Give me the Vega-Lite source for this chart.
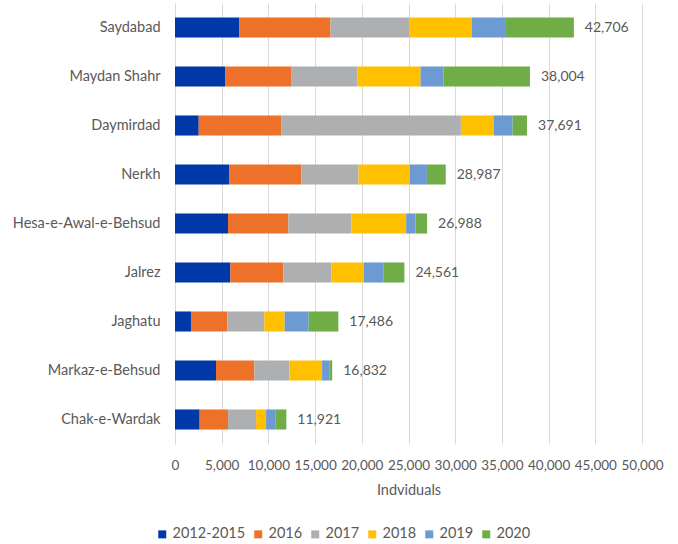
{
  "$schema": "https://vega.github.io/schema/vega-lite/v6.json",
  "width": 467,
  "height": 441,
  "autosize": {"type": "none"},
  "padding": {"left": 175, "top": 3, "right": 36, "bottom": 100},
  "background": "white",
  "config": {
    "font": "Lato",
    "view": {"stroke": null},
    "axisX": {
      "titleFontWeight": "normal",
      "titleColor": "#595959",
      "titleFontSize": 14.5,
      "titlePadding": 12,
      "tickCount": 10,
      "labelExpr": "format(datum.value, ',')",
      "labelOverlap": false,
      "ticks": false,
      "domain": false,
      "grid": true,
      "gridColor": "#d9d9d9",
      "labelColor": "#595959",
      "labelFontSize": 13.5,
      "labelPadding": 14,
      "labelFlush": false
    }
  },
  "data": {
    "values": [
      {"district": "Saydabad", "year": "2012-2015", "value": 6860},
      {"district": "Saydabad", "year": "2016", "value": 9790},
      {"district": "Saydabad", "year": "2017", "value": 8460},
      {"district": "Saydabad", "year": "2018", "value": 6680},
      {"district": "Saydabad", "year": "2019", "value": 3640},
      {"district": "Saydabad", "year": "2020", "value": 7276},
      {"district": "Maydan Shahr", "year": "2012-2015", "value": 5360},
      {"district": "Maydan Shahr", "year": "2016", "value": 7070},
      {"district": "Maydan Shahr", "year": "2017", "value": 7110},
      {"district": "Maydan Shahr", "year": "2018", "value": 6750},
      {"district": "Maydan Shahr", "year": "2019", "value": 2460},
      {"district": "Maydan Shahr", "year": "2020", "value": 9254},
      {"district": "Daymirdad", "year": "2012-2015", "value": 2540},
      {"district": "Daymirdad", "year": "2016", "value": 8820},
      {"district": "Daymirdad", "year": "2017", "value": 19250},
      {"district": "Daymirdad", "year": "2018", "value": 3500},
      {"district": "Daymirdad", "year": "2019", "value": 2040},
      {"district": "Daymirdad", "year": "2020", "value": 1541},
      {"district": "Nerkh", "year": "2012-2015", "value": 5790},
      {"district": "Nerkh", "year": "2016", "value": 7750},
      {"district": "Nerkh", "year": "2017", "value": 6110},
      {"district": "Nerkh", "year": "2018", "value": 5500},
      {"district": "Nerkh", "year": "2019", "value": 1820},
      {"district": "Nerkh", "year": "2020", "value": 2017},
      {"district": "Hesa-e-Awal-e-Behsud", "year": "2012-2015", "value": 5680},
      {"district": "Hesa-e-Awal-e-Behsud", "year": "2016", "value": 6460},
      {"district": "Hesa-e-Awal-e-Behsud", "year": "2017", "value": 6750},
      {"district": "Hesa-e-Awal-e-Behsud", "year": "2018", "value": 5860},
      {"district": "Hesa-e-Awal-e-Behsud", "year": "2019", "value": 1000},
      {"district": "Hesa-e-Awal-e-Behsud", "year": "2020", "value": 1238},
      {"district": "Jalrez", "year": "2012-2015", "value": 5930},
      {"district": "Jalrez", "year": "2016", "value": 5680},
      {"district": "Jalrez", "year": "2017", "value": 5140},
      {"district": "Jalrez", "year": "2018", "value": 3460},
      {"district": "Jalrez", "year": "2019", "value": 2140},
      {"district": "Jalrez", "year": "2020", "value": 2211},
      {"district": "Jaghatu", "year": "2012-2015", "value": 1710},
      {"district": "Jaghatu", "year": "2016", "value": 3890},
      {"district": "Jaghatu", "year": "2017", "value": 3960},
      {"district": "Jaghatu", "year": "2018", "value": 2180},
      {"district": "Jaghatu", "year": "2019", "value": 2570},
      {"district": "Jaghatu", "year": "2020", "value": 3176},
      {"district": "Markaz-e-Behsud", "year": "2012-2015", "value": 4390},
      {"district": "Markaz-e-Behsud", "year": "2016", "value": 4110},
      {"district": "Markaz-e-Behsud", "year": "2017", "value": 3750},
      {"district": "Markaz-e-Behsud", "year": "2018", "value": 3500},
      {"district": "Markaz-e-Behsud", "year": "2019", "value": 820},
      {"district": "Markaz-e-Behsud", "year": "2020", "value": 262},
      {"district": "Chak-e-Wardak", "year": "2012-2015", "value": 2640},
      {"district": "Chak-e-Wardak", "year": "2016", "value": 3040},
      {"district": "Chak-e-Wardak", "year": "2017", "value": 3000},
      {"district": "Chak-e-Wardak", "year": "2018", "value": 1070},
      {"district": "Chak-e-Wardak", "year": "2019", "value": 1040},
      {"district": "Chak-e-Wardak", "year": "2020", "value": 1131}
    ]
  },
  "encoding": {
    "y": {
      "field": "district",
      "type": "nominal",
      "sort": ["Saydabad", "Maydan Shahr", "Daymirdad", "Nerkh", "Hesa-e-Awal-e-Behsud", "Jalrez", "Jaghatu", "Markaz-e-Behsud", "Chak-e-Wardak"],
      "scale": {"paddingInner": 0.59, "paddingOuter": 0.295},
      "axis": {
        "title": null,
        "ticks": false,
        "domain": true,
        "domainColor": "#d9d9d9",
        "labelColor": "#595959",
        "labelFontSize": 14.5,
        "labelPadding": 15
      }
    }
  },
  "layer": [
    {
      "mark": {"type": "bar"},
      "encoding": {
        "x": {
          "field": "value",
          "type": "quantitative",
          "stack": "zero",
          "title": "Indviduals",
          "scale": {"domain": [0, 50000], "nice": false}
        },
        "color": {
          "field": "year",
          "type": "nominal",
          "scale": {
            "domain": ["2012-2015", "2016", "2017", "2018", "2019", "2020"],
            "range": ["#0038A8", "#ED7128", "#AEAFB1", "#FFC000", "#6E9AD4", "#70AD47"]
          },
          "legend": {
            "title": null,
            "orient": "none",
            "legendX": -20,
            "legendY": 524,
            "direction": "horizontal",
            "symbolType": "square",
            "symbolSize": 64,
            "symbolStrokeWidth": 0,
            "labelOffset": 3,
            "labelColor": "#595959",
            "labelFontSize": 14.5,
            "columnPadding": 5
          }
        }
      }
    },
    {
      "transform": [
        {"aggregate": [{"op": "sum", "field": "value", "as": "total"}], "groupby": ["district"]}
      ],
      "mark": {"type": "text", "align": "left", "dx": 11, "fontSize": 14, "color": "#595959"},
      "encoding": {
        "x": {"field": "total", "type": "quantitative", "title": "Indviduals"},
        "text": {"field": "total", "type": "quantitative", "format": ","}
      }
    }
  ]
}
